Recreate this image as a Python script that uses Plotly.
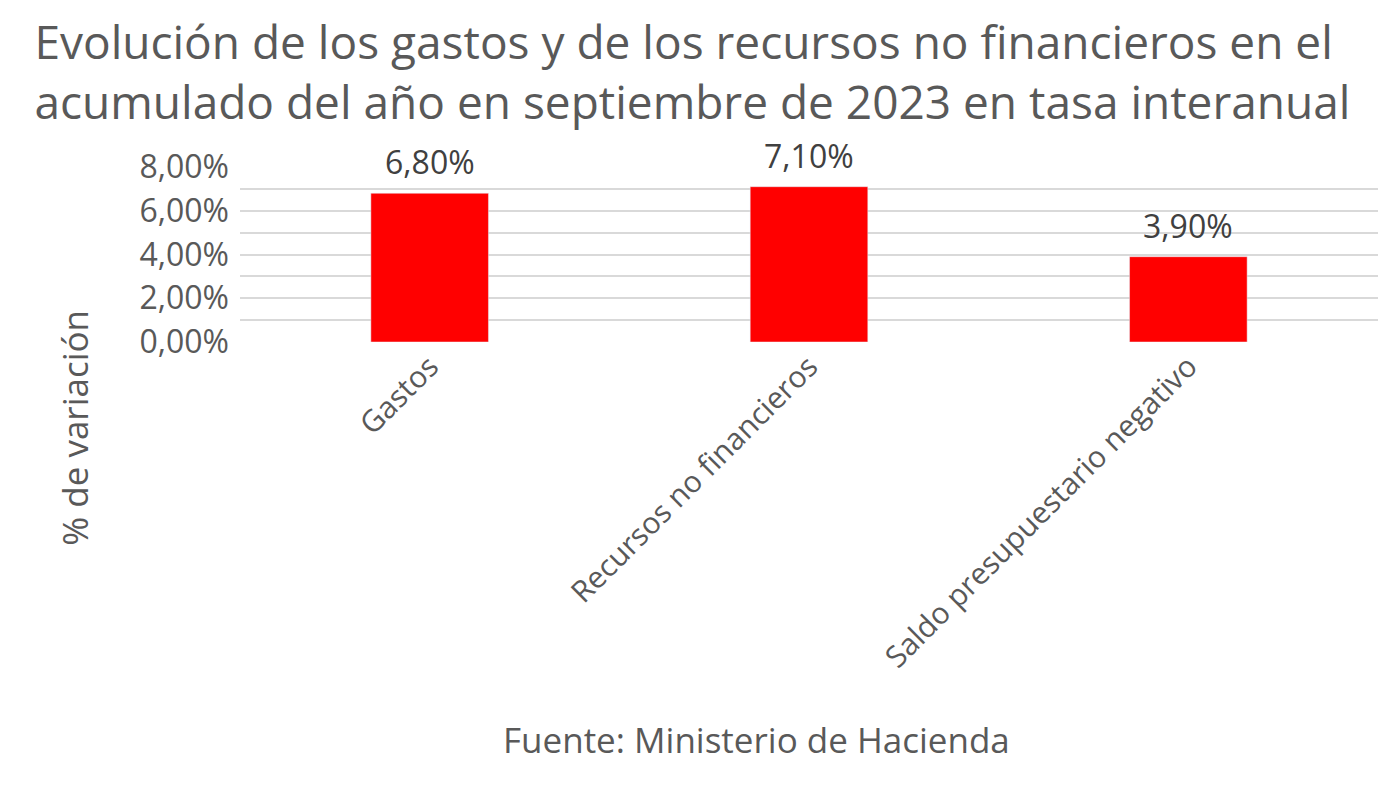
import plotly.graph_objects as go

# datos
categorias = ["Gastos", "Recursos no financieros", "Saldo presupuestario negativo"]
variacion = [6.80, 7.10, 3.90]
etiquetas = ["6,80%", "7,10%", "3,90%"]
ticks_y = [0, 2, 4, 6, 8]
ticks_y_texto = ["0,00%", "2,00%", "4,00%", "6,00%", "8,00%"]

gris = "#595959"
fuente = "Open Sans"

fig = go.Figure()
fig.add_trace(go.Bar(
    x=categorias,
    y=variacion,
    marker=dict(color="#ff0000"),
    width=0.31,
))

# etiquetas de datos un poco separadas de la barra, como en Excel
for cat, val, txt in zip(categorias, variacion, etiquetas):
    fig.add_annotation(
        x=cat, y=val, text=txt, showarrow=False,
        xanchor="center", yanchor="bottom", yshift=9, borderpad=0,
        font=dict(size=32, color="#404040", family=fuente),
    )

# la pagina tiene 8px de margen, por eso 1392x803
fig.update_layout(
    width=1392, height=803,
    margin=dict(l=232, r=22, t=159, b=469),
    paper_bgcolor="white", plot_bgcolor="white",
    showlegend=False,
    font=dict(family=fuente, color=gris),
    title=dict(
        text="Evolución de los gastos y de los recursos no financieros en el<br>"
             "acumulado del año en septiembre de 2023 en tasa interanual",
        x=0.019, xanchor="left", y=0.936, yanchor="top",
        font=dict(size=46, color=gris, family=fuente),
    ),
)

fig.update_yaxes(
    range=[0, 8],
    tickvals=ticks_y, ticktext=ticks_y_texto,
    tickfont=dict(size=32, color=gris),
    showgrid=True, gridcolor="#d9d9d9", gridwidth=2,
    minor=dict(dtick=1, showgrid=True, gridcolor="#d9d9d9", gridwidth=2),
    zeroline=False, ticks="", ticklabelstandoff=10,
)
fig.update_xaxes(
    tickangle=-45,
    tickfont=dict(size=30, color=gris),
    showline=False, ticks="",
)

fig.add_annotation(
    text="% de variación", textangle=-90,
    xref="paper", yref="paper", x=-0.145, y=-0.49,
    xanchor="center", yanchor="middle",
    showarrow=False, font=dict(size=35, color=gris),
)
fig.add_annotation(
    text="Fuente: Ministerio de Hacienda",
    xref="paper", yref="paper", x=0.454, y=-2.27,
    xanchor="center", yanchor="middle",
    showarrow=False, font=dict(size=35, color=gris),
)

fig.write_html("out.html")
